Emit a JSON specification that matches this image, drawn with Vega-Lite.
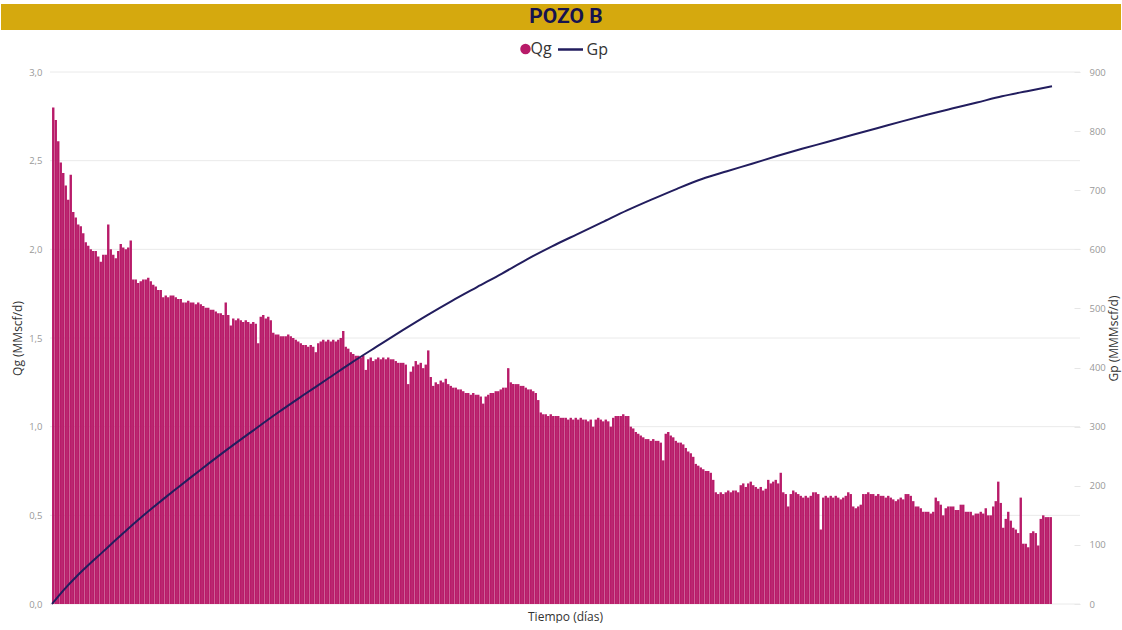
{
"$schema": "https://vega.github.io/schema/vega-lite/v6.json",
"padding": {"left": 1, "top": 4, "right": 1, "bottom": 1},
"background": "white",
"spacing": 11,
"config": {"font": "Open Sans", "view": {"stroke": null}},
"resolve": {"scale": {"color": "independent"}, "legend": {"color": "independent"}},
"datasets": {
"qgdata": [
{"t":0,"qg":2.80},{"t":1,"qg":2.73},{"t":2,"qg":2.61},{"t":3,"qg":2.49},{"t":4,"qg":2.43},{"t":5,"qg":2.36},{"t":6,"qg":2.28},{"t":7,"qg":2.42},{"t":8,"qg":2.21},{"t":9,"qg":2.18},
{"t":10,"qg":2.14},{"t":11,"qg":2.13},{"t":12,"qg":2.09},{"t":13,"qg":2.04},{"t":14,"qg":2.02},{"t":15,"qg":2.00},{"t":16,"qg":1.99},{"t":17,"qg":1.99},{"t":18,"qg":1.96},{"t":19,"qg":1.93},
{"t":20,"qg":1.97},{"t":21,"qg":1.97},{"t":22,"qg":2.14},{"t":23,"qg":2.00},{"t":24,"qg":1.97},{"t":25,"qg":1.95},{"t":26,"qg":1.99},{"t":27,"qg":2.03},{"t":28,"qg":2.01},{"t":29,"qg":2.00},
{"t":30,"qg":2.01},{"t":31,"qg":2.05},{"t":32,"qg":1.83},{"t":33,"qg":1.83},{"t":34,"qg":1.81},{"t":35,"qg":1.82},{"t":36,"qg":1.83},{"t":37,"qg":1.83},{"t":38,"qg":1.84},{"t":39,"qg":1.82},
{"t":40,"qg":1.80},{"t":41,"qg":1.79},{"t":42,"qg":1.77},{"t":43,"qg":1.77},{"t":44,"qg":1.73},{"t":45,"qg":1.74},{"t":46,"qg":1.73},{"t":47,"qg":1.74},{"t":48,"qg":1.74},{"t":49,"qg":1.73},
{"t":50,"qg":1.72},{"t":51,"qg":1.72},{"t":52,"qg":1.70},{"t":53,"qg":1.70},{"t":54,"qg":1.71},{"t":55,"qg":1.70},{"t":56,"qg":1.70},{"t":57,"qg":1.69},{"t":58,"qg":1.70},{"t":59,"qg":1.69},
{"t":60,"qg":1.68},{"t":61,"qg":1.67},{"t":62,"qg":1.67},{"t":63,"qg":1.66},{"t":64,"qg":1.66},{"t":65,"qg":1.65},{"t":66,"qg":1.64},{"t":67,"qg":1.64},{"t":68,"qg":1.63},{"t":69,"qg":1.70},
{"t":70,"qg":1.63},{"t":71,"qg":1.57},{"t":72,"qg":1.61},{"t":73,"qg":1.60},{"t":74,"qg":1.61},{"t":75,"qg":1.60},{"t":76,"qg":1.59},{"t":77,"qg":1.60},{"t":78,"qg":1.59},{"t":79,"qg":1.58},
{"t":80,"qg":1.59},{"t":81,"qg":1.58},{"t":82,"qg":1.47},{"t":83,"qg":1.62},{"t":84,"qg":1.63},{"t":85,"qg":1.61},{"t":86,"qg":1.62},{"t":87,"qg":1.60},{"t":88,"qg":1.53},{"t":89,"qg":1.52},
{"t":90,"qg":1.52},{"t":91,"qg":1.51},{"t":92,"qg":1.51},{"t":93,"qg":1.51},{"t":94,"qg":1.52},{"t":95,"qg":1.51},{"t":96,"qg":1.50},{"t":97,"qg":1.49},{"t":98,"qg":1.48},{"t":99,"qg":1.47},
{"t":100,"qg":1.46},{"t":101,"qg":1.46},{"t":102,"qg":1.45},{"t":103,"qg":1.46},{"t":104,"qg":1.45},{"t":105,"qg":1.42},{"t":106,"qg":1.47},{"t":107,"qg":1.48},{"t":108,"qg":1.49},{"t":109,"qg":1.48},
{"t":110,"qg":1.49},{"t":111,"qg":1.48},{"t":112,"qg":1.49},{"t":113,"qg":1.48},{"t":114,"qg":1.49},{"t":115,"qg":1.50},{"t":116,"qg":1.54},{"t":117,"qg":1.45},{"t":118,"qg":1.44},{"t":119,"qg":1.42},
{"t":120,"qg":1.41},{"t":121,"qg":1.40},{"t":122,"qg":1.40},{"t":123,"qg":1.39},{"t":124,"qg":1.40},{"t":125,"qg":1.32},{"t":126,"qg":1.38},{"t":127,"qg":1.39},{"t":128,"qg":1.37},{"t":129,"qg":1.38},
{"t":130,"qg":1.39},{"t":131,"qg":1.38},{"t":132,"qg":1.39},{"t":133,"qg":1.38},{"t":134,"qg":1.39},{"t":135,"qg":1.38},{"t":136,"qg":1.38},{"t":137,"qg":1.37},{"t":138,"qg":1.36},{"t":139,"qg":1.36},
{"t":140,"qg":1.36},{"t":141,"qg":1.35},{"t":142,"qg":1.24},{"t":143,"qg":1.31},{"t":144,"qg":1.34},{"t":145,"qg":1.37},{"t":146,"qg":1.35},{"t":147,"qg":1.36},{"t":148,"qg":1.33},{"t":149,"qg":1.35},
{"t":150,"qg":1.43},{"t":151,"qg":1.28},{"t":152,"qg":1.23},{"t":153,"qg":1.25},{"t":154,"qg":1.24},{"t":155,"qg":1.26},{"t":156,"qg":1.25},{"t":157,"qg":1.27},{"t":158,"qg":1.24},{"t":159,"qg":1.23},
{"t":160,"qg":1.22},{"t":161,"qg":1.22},{"t":162,"qg":1.21},{"t":163,"qg":1.21},{"t":164,"qg":1.20},{"t":165,"qg":1.19},{"t":166,"qg":1.19},{"t":167,"qg":1.18},{"t":168,"qg":1.19},{"t":169,"qg":1.18},
{"t":170,"qg":1.18},{"t":171,"qg":1.17},{"t":172,"qg":1.13},{"t":173,"qg":1.17},{"t":174,"qg":1.18},{"t":175,"qg":1.19},{"t":176,"qg":1.19},{"t":177,"qg":1.20},{"t":178,"qg":1.20},{"t":179,"qg":1.21},
{"t":180,"qg":1.22},{"t":181,"qg":1.22},{"t":182,"qg":1.33},{"t":183,"qg":1.25},{"t":184,"qg":1.24},{"t":185,"qg":1.24},{"t":186,"qg":1.24},{"t":187,"qg":1.23},{"t":188,"qg":1.23},{"t":189,"qg":1.22},
{"t":190,"qg":1.21},{"t":191,"qg":1.21},{"t":192,"qg":1.20},{"t":193,"qg":1.19},{"t":194,"qg":1.15},{"t":195,"qg":1.08},{"t":196,"qg":1.07},{"t":197,"qg":1.07},{"t":198,"qg":1.06},{"t":199,"qg":1.07},
{"t":200,"qg":1.06},{"t":201,"qg":1.06},{"t":202,"qg":1.06},{"t":203,"qg":1.05},{"t":204,"qg":1.05},{"t":205,"qg":1.05},{"t":206,"qg":1.04},{"t":207,"qg":1.05},{"t":208,"qg":1.04},{"t":209,"qg":1.05},
{"t":210,"qg":1.04},{"t":211,"qg":1.05},{"t":212,"qg":1.04},{"t":213,"qg":1.04},{"t":214,"qg":1.03},{"t":215,"qg":1.04},{"t":216,"qg":1.00},{"t":217,"qg":1.04},{"t":218,"qg":1.05},{"t":219,"qg":1.04},
{"t":220,"qg":1.03},{"t":221,"qg":1.04},{"t":222,"qg":1.03},{"t":223,"qg":1.00},{"t":224,"qg":1.05},{"t":225,"qg":1.06},{"t":226,"qg":1.06},{"t":227,"qg":1.06},{"t":228,"qg":1.07},{"t":229,"qg":1.06},
{"t":230,"qg":1.06},{"t":231,"qg":1.00},{"t":232,"qg":0.99},{"t":233,"qg":0.97},{"t":234,"qg":0.96},{"t":235,"qg":0.95},{"t":236,"qg":0.94},{"t":237,"qg":0.93},{"t":238,"qg":0.93},{"t":239,"qg":0.92},
{"t":240,"qg":0.93},{"t":241,"qg":0.92},{"t":242,"qg":0.92},{"t":243,"qg":0.91},{"t":244,"qg":0.81},{"t":245,"qg":0.96},{"t":246,"qg":0.97},{"t":247,"qg":0.95},{"t":248,"qg":0.94},{"t":249,"qg":0.92},
{"t":250,"qg":0.91},{"t":251,"qg":0.91},{"t":252,"qg":0.90},{"t":253,"qg":0.88},{"t":254,"qg":0.86},{"t":255,"qg":0.85},{"t":256,"qg":0.83},{"t":257,"qg":0.79},{"t":258,"qg":0.78},{"t":259,"qg":0.77},
{"t":260,"qg":0.76},{"t":261,"qg":0.75},{"t":262,"qg":0.75},{"t":263,"qg":0.74},{"t":264,"qg":0.70},{"t":265,"qg":0.63},{"t":266,"qg":0.62},{"t":267,"qg":0.63},{"t":268,"qg":0.62},{"t":269,"qg":0.63},
{"t":270,"qg":0.64},{"t":271,"qg":0.63},{"t":272,"qg":0.64},{"t":273,"qg":0.64},{"t":274,"qg":0.63},{"t":275,"qg":0.67},{"t":276,"qg":0.68},{"t":277,"qg":0.66},{"t":278,"qg":0.68},{"t":279,"qg":0.69},
{"t":280,"qg":0.67},{"t":281,"qg":0.66},{"t":282,"qg":0.65},{"t":283,"qg":0.66},{"t":284,"qg":0.64},{"t":285,"qg":0.65},{"t":286,"qg":0.70},{"t":287,"qg":0.68},{"t":288,"qg":0.69},{"t":289,"qg":0.70},
{"t":290,"qg":0.68},{"t":291,"qg":0.74},{"t":292,"qg":0.63},{"t":293,"qg":0.62},{"t":294,"qg":0.55},{"t":295,"qg":0.62},{"t":296,"qg":0.64},{"t":297,"qg":0.63},{"t":298,"qg":0.62},{"t":299,"qg":0.61},
{"t":300,"qg":0.60},{"t":301,"qg":0.61},{"t":302,"qg":0.60},{"t":303,"qg":0.61},{"t":304,"qg":0.63},{"t":305,"qg":0.63},{"t":306,"qg":0.62},{"t":307,"qg":0.42},{"t":308,"qg":0.60},{"t":309,"qg":0.61},
{"t":310,"qg":0.60},{"t":311,"qg":0.61},{"t":312,"qg":0.60},{"t":313,"qg":0.61},{"t":314,"qg":0.60},{"t":315,"qg":0.59},{"t":316,"qg":0.60},{"t":317,"qg":0.61},{"t":318,"qg":0.63},{"t":319,"qg":0.62},
{"t":320,"qg":0.55},{"t":321,"qg":0.54},{"t":322,"qg":0.55},{"t":323,"qg":0.56},{"t":324,"qg":0.62},{"t":325,"qg":0.62},{"t":326,"qg":0.63},{"t":327,"qg":0.62},{"t":328,"qg":0.62},{"t":329,"qg":0.61},
{"t":330,"qg":0.62},{"t":331,"qg":0.61},{"t":332,"qg":0.61},{"t":333,"qg":0.60},{"t":334,"qg":0.61},{"t":335,"qg":0.60},{"t":336,"qg":0.59},{"t":337,"qg":0.58},{"t":338,"qg":0.59},{"t":339,"qg":0.60},
{"t":340,"qg":0.59},{"t":341,"qg":0.62},{"t":342,"qg":0.62},{"t":343,"qg":0.61},{"t":344,"qg":0.58},{"t":345,"qg":0.55},{"t":346,"qg":0.55},{"t":347,"qg":0.54},{"t":348,"qg":0.52},{"t":349,"qg":0.52},
{"t":350,"qg":0.52},{"t":351,"qg":0.51},{"t":352,"qg":0.52},{"t":353,"qg":0.60},{"t":354,"qg":0.58},{"t":355,"qg":0.56},{"t":356,"qg":0.50},{"t":357,"qg":0.54},{"t":358,"qg":0.55},{"t":359,"qg":0.55},
{"t":360,"qg":0.55},{"t":361,"qg":0.53},{"t":362,"qg":0.53},{"t":363,"qg":0.56},{"t":364,"qg":0.56},{"t":365,"qg":0.52},{"t":366,"qg":0.52},{"t":367,"qg":0.52},{"t":368,"qg":0.50},{"t":369,"qg":0.51},
{"t":370,"qg":0.51},{"t":371,"qg":0.52},{"t":372,"qg":0.51},{"t":373,"qg":0.54},{"t":374,"qg":0.50},{"t":375,"qg":0.50},{"t":376,"qg":0.55},{"t":377,"qg":0.58},{"t":378,"qg":0.69},{"t":379,"qg":0.57},
{"t":380,"qg":0.43},{"t":381,"qg":0.48},{"t":382,"qg":0.52},{"t":383,"qg":0.47},{"t":384,"qg":0.43},{"t":385,"qg":0.42},{"t":386,"qg":0.40},{"t":387,"qg":0.60},{"t":388,"qg":0.34},{"t":389,"qg":0.34},
{"t":390,"qg":0.32},{"t":391,"qg":0.40},{"t":392,"qg":0.41},{"t":393,"qg":0.40},{"t":394,"qg":0.33},{"t":395,"qg":0.48},{"t":396,"qg":0.50},{"t":397,"qg":0.49},{"t":398,"qg":0.49},{"t":399,"qg":0.49}
],
"gpdata": [
{"t":-0.5,"gp":0},{"t":4.5,"gp":25.3},{"t":9.5,"gp":47.5},{"t":14.5,"gp":67.7},{"t":19.5,"gp":86.9},{"t":24.5,"gp":106.4},{"t":29.5,"gp":125.7},{"t":34.5,"gp":144.2},{"t":39.5,"gp":161.9},{"t":44.5,"gp":179.1},{"t":49.5,"gp":195.9},{"t":54.5,"gp":212.5},{"t":59.5,"gp":228.9},{"t":69.5,"gp":261.1},{"t":79.5,"gp":292.1},{"t":89.5,"gp":322.7},{"t":99.5,"gp":351.8},{"t":109.5,"gp":380.2},{"t":119.5,"gp":408.8},{"t":129.5,"gp":435.7},{"t":139.5,"gp":462.4},{"t":149.5,"gp":488.3},{"t":159.5,"gp":512.9},{"t":169.5,"gp":536.1},{"t":179.5,"gp":559.0},{"t":189.5,"gp":583.1},{"t":199.5,"gp":605.1},{"t":209.5,"gp":625.4},{"t":219.5,"gp":645.5},{"t":229.5,"gp":665.8},{"t":239.5,"gp":684.5},{"t":249.5,"gp":702.4},{"t":259.5,"gp":718.9},{"t":269.5,"gp":732.1},{"t":279.5,"gp":744.8},{"t":289.5,"gp":757.8},{"t":299.5,"gp":770.1},{"t":309.5,"gp":781.6},{"t":319.5,"gp":793.4},{"t":329.5,"gp":804.9},{"t":339.5,"gp":816.5},{"t":349.5,"gp":827.6},{"t":359.5,"gp":838.1},{"t":369.5,"gp":848.4},{"t":379.5,"gp":859.0},{"t":389.5,"gp":867.6},{"t":399.5,"gp":876.0}
],
"grid": [{"g":0},{"g":0.5},{"g":1},{"g":1.5},{"g":2},{"g":2.5},{"g":3}]
},
"vconcat": [
{
"width": 1120,
"height": 26,
"view": {"fill": "#D5A90E", "stroke": null},
"data": {"values": [{"titulo": "POZO B"}]},
"mark": {"type": "text", "font": "Roboto", "fontWeight": "bold", "fontSize": 21, "color": "#16134F", "dx": 5, "align": "center", "baseline": "middle"},
"encoding": {"text": {"field": "titulo", "type": "nominal"}}
},
{
"width": 1120,
"height": 532,
"resolve": {"scale": {"y": "independent"}, "axis": {"y": "independent"}},
"layer": [
{
"data": {"name": "grid"},
"mark": {"type": "rule", "color": "#EAEAEA", "strokeWidth": 1},
"encoding": {
"y": {"field": "g", "type": "quantitative", "scale": {"domain": [0, 3], "nice": false}, "axis": null},
"x": {"datum": -1.3, "type": "quantitative", "scale": {"domain": [-20.9, 427.1], "nice": false, "zero": false, "padding": 0},
"axis": {"title": "Tiempo (días)", "labels": false, "ticks": false, "domain": false, "grid": false, "titleColor": "#333333", "titleFontSize": 12, "titleFontWeight": "normal", "titlePadding": 7, "titleX": 564}},
"x2": {"datum": 410.7}
}
},
{
"data": {"name": "qgdata"},
"mark": {"type": "bar", "width": 2.4},
"encoding": {
"x": {"field": "t", "type": "quantitative", "scale": {"domain": [-20.9, 427.1], "nice": false, "zero": false, "padding": 0},
"axis": {"title": "Tiempo (días)", "labels": false, "ticks": false, "domain": false, "grid": false, "titleColor": "#333333", "titleFontSize": 12, "titleFontWeight": "normal", "titlePadding": 7, "titleX": 564}},
"y": {"field": "qg", "type": "quantitative", "scale": {"domain": [0, 3], "nice": false},
"axis": {"orient": "left", "title": "Qg (MMscf/d)", "values": [0, 0.5, 1, 1.5, 2, 2.5, 3], "labelExpr": "replace(format(datum.value, '.1f'), '.', ',')", "offset": -49, "domain": false, "ticks": false, "grid": false, "labelPadding": 8, "labelColor": "#999999", "labelFontSize": 9.5, "titleColor": "#333333", "titleFontSize": 12, "titleFontWeight": "normal", "titlePadding": 4}},
"color": {"datum": "Qg", "type": "nominal", "scale": {"domain": ["Qg", "Gp"], "range": ["#B81B69", "#221D5E"]},
"legend": {"orient": "none", "legendX": 516.5, "legendY": -31, "direction": "horizontal", "title": null, "symbolSize": 625, "symbolStrokeWidth": 2.5, "labelFontSize": 16, "labelColor": "#333333", "labelFont": "Open Sans", "columnPadding": 0, "padding": 0, "labelOffset": 4,
"encode": {
"symbols": {"update": {
"shape": {"signal": "datum.value === 'Gp' ? 'stroke' : 'circle'"},
"size": {"signal": "datum.value === 'Gp' ? 625 : 64"},
"fill": {"signal": "datum.value === 'Gp' ? 'transparent' : '#B81B69'"},
"stroke": {"signal": "datum.value === 'Gp' ? '#3B3680' : 'transparent'"},
"strokeWidth": {"value": 2.5},
"opacity": {"value": 1}
}},
"labels": {"update": {"dx": {"signal": "datum.value === 'Qg' ? -7 : 4"}}}
}}}
}
},
{
"data": {"name": "gpdata"},
"mark": {"type": "line", "strokeWidth": 2, "interpolate": "monotone"},
"encoding": {
"x": {"field": "t", "type": "quantitative"},
"y": {"field": "gp", "type": "quantitative", "scale": {"domain": [0, 900], "nice": false},
"axis": {"orient": "right", "title": "Gp (MMMscf/d)", "values": [0, 100, 200, 300, 400, 500, 600, 700, 800, 900], "offset": -47, "domain": false, "ticks": true, "tickSize": 6, "tickColor": "#E6E6E6", "grid": false, "labelPadding": 9, "labelColor": "#999999", "labelFontSize": 9.5, "titleColor": "#333333", "titleFontSize": 12, "titleFontWeight": "normal", "titleAngle": -90, "titleBaseline": "top", "titlePadding": 3}},
"color": {"datum": "Gp", "type": "nominal"}
}
}
]
}
]
}
